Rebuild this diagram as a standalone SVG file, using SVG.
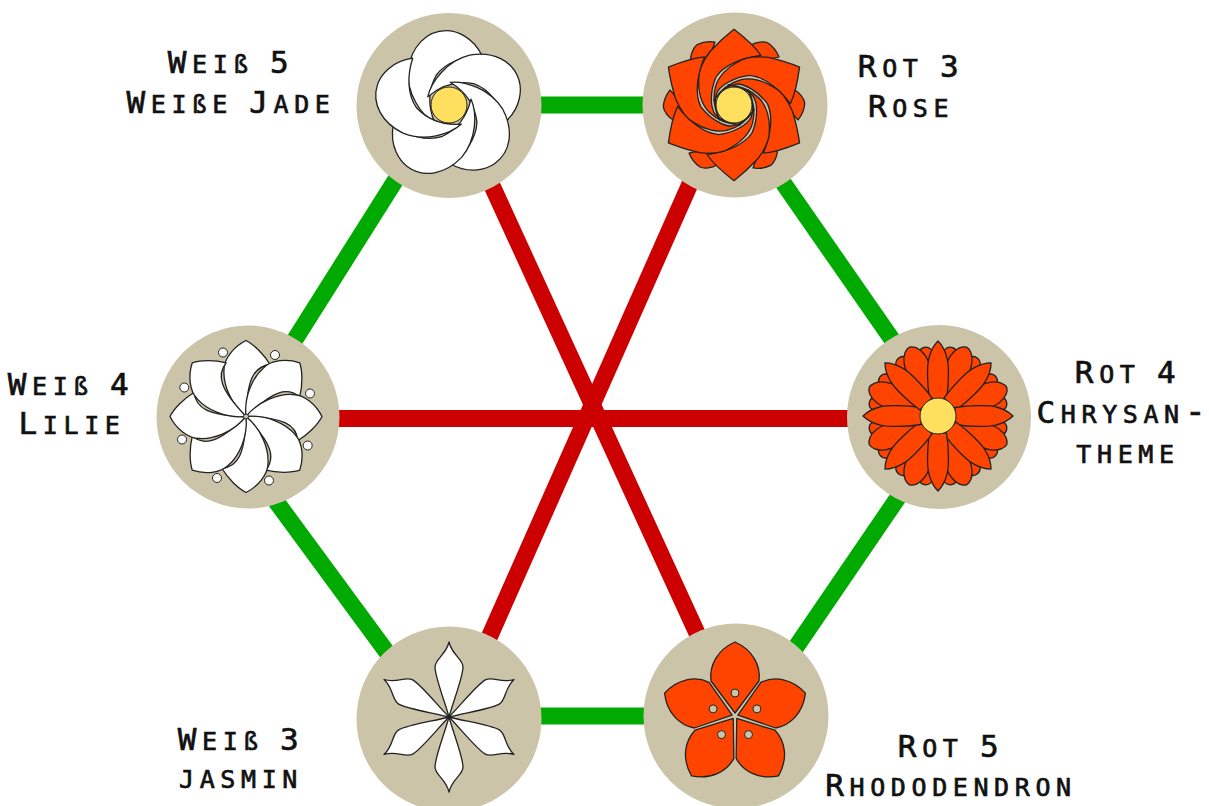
<svg xmlns="http://www.w3.org/2000/svg" width="1209" height="806" viewBox="0 0 1209 806">
<style>
.bg{fill:#ccc4a9}
.g{stroke:#00aa00;stroke-width:17;fill:none}
.r{stroke:#cc0000;stroke-width:17;fill:none}
.w{fill:#fff;stroke:#222;stroke-width:1.3;stroke-linejoin:round}
.o{fill:#ff4400;stroke:#222;stroke-width:1.3;stroke-linejoin:round}
.y{fill:#ffdf5e;stroke:#222;stroke-width:1}
.h{fill:#ccc4a9;stroke:#222;stroke-width:1}
.d{fill:#fff;stroke:#222;stroke-width:1}
text{font-family:"DejaVu Sans Mono","Liberation Mono",monospace;font-weight:400;font-size:35px;font-variant:small-caps;letter-spacing:5.6px;text-anchor:middle;fill:#111;stroke:#111;stroke-width:.7}
.c{font-size:31px;font-variant:normal}
.s{font-variant:normal;font-size:24px}
.p{font-size:18px}
</style>
<defs>
<path id="p5" d="M33.3,-49C24,-68.3 7.3,-74.3 -2.7,-74.3C-22.7,-74.3 -37.7,-58.3 -41,-35C-42.7,-11.7 -27.7,10 -14.3,17.7C-21,1.7 -21,-15 -12.7,-30C-2.7,-43.3 15.7,-49 33.3,-49Z"/>
<path id="rf" d="M0,-75.7C-10,-68 -18,-60 -24,-53.5C-31,-44 -36,-34 -35.3,-25.4C-36,-14 -33,-1 -25,7C-18,14 -8,19 6,20C-6,18 -14,15 -19,9C-24,2 -24,-14 -18,-28C-10,-40 8,-47 27,-49.5C20,-60 10,-68 0,-75.7Z"/>
<path id="rl" d="M17,-60C22,-63 30,-64 34,-62C40,-58 43,-53 45,-48C38,-46 30,-46 22,-46Z"/>
<path id="cf" d="M-8.5,-17C-11,-32 -11,-52 -9,-58C-7,-66 -3,-72 0,-75C3,-72 7,-66 9,-58C11,-52 11,-32 8.5,-17Z"/>
<path id="cm" d="M-8,-17C-13,-35 -13,-55 -11,-62C-9,-70 -4,-74 0,-74.5C4,-74 9,-70 11,-62C13,-55 13,-35 8,-17Z"/>
<path id="cb" d="M-7,-30C-8,-50 -8,-64 -6,-67C-3,-71 3,-71 6,-67C8,-64 8,-50 7,-30Z"/>
<path id="lp" d="M0,0C-16,-13 -23,-33 -22,-47C-22,-58 -12,-70 0,-76C8,-72 18,-62 24,-52C8,-50 1,-38 0,0Z"/>
<path id="jp" d="M0,0C-4,-15 -14,-40 -14,-50C-14,-58 -3,-62 0,-75C3,-62 14,-58 14,-50C14,-40 4,-15 0,0Z"/>
<path id="hp" d="M0,-3L-24,-35C-26,-50 -18,-66 0,-74C18,-66 26,-50 24,-35Z"/>
</defs>
<g id="connectors">
<line class="g" x1="449" y1="105" x2="735" y2="105"/>
<line class="g" x1="729" y1="105" x2="946" y2="417"/>
<line class="g" x1="953" y1="417" x2="749" y2="716"/>
<line class="g" x1="736" y1="716" x2="449" y2="716"/>
<line class="g" x1="436" y1="719" x2="214" y2="417"/>
<line class="g" x1="246" y1="417" x2="443" y2="105"/>
<line class="r" x1="455" y1="105" x2="735" y2="716"/>
<line class="r" x1="725" y1="105" x2="453" y2="719"/>
<line class="r" x1="248" y1="418.5" x2="939" y2="418.5"/>
</g>
<g id="weiss5">
<circle class="bg" cx="449" cy="105.5" r="92.5"/>
<g transform="translate(449,105)">
<use href="#p5" class="w"/><use href="#p5" class="w" transform="rotate(72)"/><use href="#p5" class="w" transform="rotate(144)"/><use href="#p5" class="w" transform="rotate(216)"/><use href="#p5" class="w" transform="rotate(288)"/>
<circle class="y" r="18"/>
</g>
<text x="231" y="73"><tspan class="c">W</tspan>ei<tspan class="s">ß</tspan><tspan class="p"> </tspan><tspan class="c">5</tspan></text>
<text x="231" y="113"><tspan class="c">W</tspan>ei<tspan class="s">ß</tspan>e<tspan class="p"> </tspan><tspan class="c">J</tspan>ade</text>
</g>
<g id="rot3">
<circle class="bg" cx="735" cy="105" r="92.5"/>
<g transform="translate(734,105)">
<use href="#rl" class="o"/><use href="#rl" class="o" transform="rotate(60)"/><use href="#rl" class="o" transform="rotate(120)"/><use href="#rl" class="o" transform="rotate(180)"/><use href="#rl" class="o" transform="rotate(240)"/><use href="#rl" class="o" transform="rotate(300)"/>
<use href="#rf" class="o"/><use href="#rf" class="o" transform="rotate(60)"/><use href="#rf" class="o" transform="rotate(120)"/><use href="#rf" class="o" transform="rotate(180)"/><use href="#rf" class="o" transform="rotate(240)"/><use href="#rf" class="o" transform="rotate(300)"/>
<circle class="y" r="18"/>
</g>
<text x="911" y="77"><tspan class="c">R</tspan>ot<tspan class="p"> </tspan><tspan class="c">3</tspan></text>
<text x="911" y="117"><tspan class="c">R</tspan>ose</text>
</g>
<g id="rot4">
<circle class="bg" cx="939" cy="417" r="92"/>
<g transform="translate(938,416)">
<use href="#cb" class="o" transform="rotate(11.25)"/><use href="#cb" class="o" transform="rotate(33.75)"/><use href="#cb" class="o" transform="rotate(56.25)"/><use href="#cb" class="o" transform="rotate(78.75)"/><use href="#cb" class="o" transform="rotate(101.25)"/><use href="#cb" class="o" transform="rotate(123.75)"/><use href="#cb" class="o" transform="rotate(146.25)"/><use href="#cb" class="o" transform="rotate(168.75)"/><use href="#cb" class="o" transform="rotate(191.25)"/><use href="#cb" class="o" transform="rotate(213.75)"/><use href="#cb" class="o" transform="rotate(236.25)"/><use href="#cb" class="o" transform="rotate(258.75)"/><use href="#cb" class="o" transform="rotate(281.25)"/><use href="#cb" class="o" transform="rotate(303.75)"/><use href="#cb" class="o" transform="rotate(326.25)"/><use href="#cb" class="o" transform="rotate(348.75)"/>
<use href="#cm" class="o" transform="rotate(22.5)"/><use href="#cm" class="o" transform="rotate(67.5)"/><use href="#cm" class="o" transform="rotate(112.5)"/><use href="#cm" class="o" transform="rotate(157.5)"/><use href="#cm" class="o" transform="rotate(202.5)"/><use href="#cm" class="o" transform="rotate(247.5)"/><use href="#cm" class="o" transform="rotate(292.5)"/><use href="#cm" class="o" transform="rotate(337.5)"/>
<use href="#cf" class="o"/><use href="#cf" class="o" transform="rotate(45)"/><use href="#cf" class="o" transform="rotate(90)"/><use href="#cf" class="o" transform="rotate(135)"/><use href="#cf" class="o" transform="rotate(180)"/><use href="#cf" class="o" transform="rotate(225)"/><use href="#cf" class="o" transform="rotate(270)"/><use href="#cf" class="o" transform="rotate(315)"/>
<circle class="y" r="18"/>
</g>
<text x="1128" y="383"><tspan class="c">R</tspan>ot<tspan class="p"> </tspan><tspan class="c">4</tspan></text>
<text x="1124" y="423"><tspan class="c">C</tspan>hrysan-</text>
<text x="1128" y="463">theme</text>
</g>
<g id="weiss4">
<circle class="bg" cx="248" cy="417" r="91.5"/>
<g transform="translate(246,416.5)">
<use href="#lp" class="w"/><use href="#lp" class="w" transform="rotate(45)"/><use href="#lp" class="w" transform="rotate(90)"/><use href="#lp" class="w" transform="rotate(135)"/><use href="#lp" class="w" transform="rotate(180)"/><use href="#lp" class="w" transform="rotate(225)"/><use href="#lp" class="w" transform="rotate(270)"/><use href="#lp" class="w" transform="rotate(315)"/>
<circle class="h" r="2.5"/>
<circle class="d" cx="29" cy="-61.5" r="4.5"/><circle class="d" cx="64" cy="-23" r="4.5"/><circle class="d" cx="61.7" cy="29" r="4.5"/><circle class="d" cx="23" cy="64" r="4.5"/><circle class="d" cx="-29" cy="61.5" r="4.5"/><circle class="d" cx="-64" cy="23" r="4.5"/><circle class="d" cx="-61.7" cy="-29" r="4.5"/><circle class="d" cx="-23" cy="-64" r="4.5"/>
</g>
<text x="71" y="395"><tspan class="c">W</tspan>ei<tspan class="s">ß</tspan><tspan class="p"> </tspan><tspan class="c">4</tspan></text>
<text x="72" y="434"><tspan class="c">L</tspan>ilie</text>
</g>
<g id="weiss3">
<circle class="bg" cx="449" cy="719" r="92.5"/>
<g transform="translate(449,717)">
<use href="#jp" class="w"/><use href="#jp" class="w" transform="rotate(60)"/><use href="#jp" class="w" transform="rotate(120)"/><use href="#jp" class="w" transform="rotate(180)"/><use href="#jp" class="w" transform="rotate(240)"/><use href="#jp" class="w" transform="rotate(300)"/>
</g>
<text x="241" y="750"><tspan class="c">W</tspan>ei<tspan class="s">ß</tspan><tspan class="p"> </tspan><tspan class="c">3</tspan></text>
<text x="241" y="788">jasmin</text>
</g>
<g id="rot5">
<circle class="bg" cx="736" cy="716" r="92.5"/>
<g transform="translate(735,716)">
<use href="#hp" class="o"/><use href="#hp" class="o" transform="rotate(72)"/><use href="#hp" class="o" transform="rotate(144)"/><use href="#hp" class="o" transform="rotate(216)"/><use href="#hp" class="o" transform="rotate(288)"/>
<circle class="h" cy="-23" r="4"/><circle class="h" cx="21.9" cy="-7.1" r="4"/><circle class="h" cx="13.5" cy="18.6" r="4"/><circle class="h" cx="-13.5" cy="18.6" r="4"/><circle class="h" cx="-21.9" cy="-7.1" r="4"/>
</g>
<text x="951" y="757"><tspan class="c">R</tspan>ot<tspan class="p"> </tspan><tspan class="c">5</tspan></text>
<text x="951" y="796"><tspan class="c">R</tspan>hododendron</text>
</g>
</svg>
